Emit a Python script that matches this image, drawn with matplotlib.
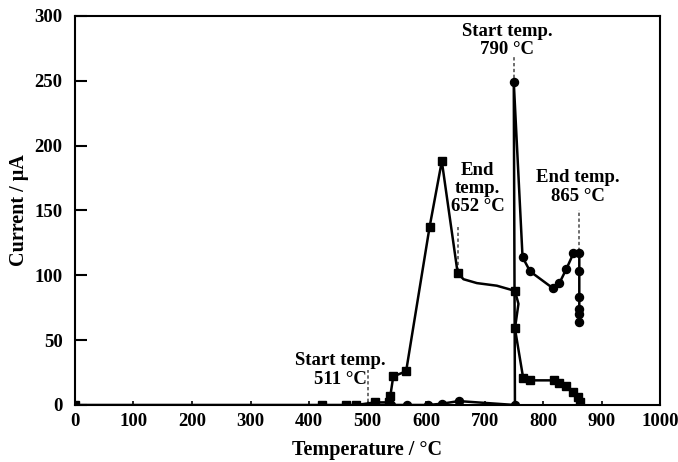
import matplotlib
matplotlib.use("Agg")
import matplotlib.pyplot as plt

plt.rcParams["font.family"] = ["Liberation Serif", "DejaVu Serif"]
plt.rcParams["font.weight"] = "bold"

# Square-marker series (first current peak); points on the smooth stretch
# between markers are drawn as line only
sq_x = [0, 423, 463, 481, 513, 536, 539, 544, 566, 606, 627, 654,
        664, 687, 721, 752, 758, 752, 766, 778, 818, 828, 840, 852, 860, 863]
sq_y = [0, 0, 0, 0, 2, 2, 7, 22, 26, 137, 188, 102,
        97, 94, 92, 88, 78, 59, 21, 19, 19, 17, 15, 10, 6, 2]
sq_marked = [1, 1, 1, 1, 1, 1, 1, 1, 1, 1, 1, 1,
             0, 0, 0, 1, 0, 1, 1, 1, 1, 1, 1, 1, 1, 1]

# Circle-marker series (second current peak)
ci_x = [513, 540, 567, 604, 627, 656, 752, 750, 765, 778, 817, 828, 840,
        852, 862, 862, 862, 862, 862, 862]
ci_y = [0, 0, 0, 0, 1, 3, 0, 249, 114, 103, 90, 94, 105,
        117, 117, 103, 83, 74, 70, 64]

# Annotations: text, text anchor (x, y), dashed marker line (x, y0, y1)
ann_text = ["Start temp.\n511 °C", "End\ntemp.\n652 °C",
            "Start temp.\n790 °C", "End temp.\n865 °C"]
ann_tx = [453, 688, 739, 860]
ann_ty = [27, 167, 281, 168]
ann_lx = [501, 655, 750, 861]
ann_ly0 = [2, 103, 252, 119]
ann_ly1 = [27, 137, 268, 150]

fig = plt.figure(figsize=(6.78, 4.62), dpi=100)
ax = fig.add_axes([0.1106, 0.1234, 0.9735 - 0.1106, 0.9654 - 0.1234])

ax.plot(sq_x, sq_y, color="black", lw=1.8, zorder=3)
mx = [x for x, m in zip(sq_x, sq_marked) if m]
my = [y for y, m in zip(sq_y, sq_marked) if m]
ax.plot(mx, my, ls="none", marker="s", ms=5.8, color="black", zorder=4)
ax.plot(ci_x, ci_y, color="black", lw=1.8, marker="o", ms=5.8, zorder=3)

for t, tx, ty, lx, y0, y1 in zip(ann_text, ann_tx, ann_ty, ann_lx, ann_ly0, ann_ly1):
    ax.plot([lx, lx], [y0, y1], color="#555555", lw=1.2, ls=(0, (2, 1.5)), zorder=2)
    ax.text(tx, ty, t, ha="center", va="center", fontsize=13.5,
            fontweight="bold", linespacing=1.1)

ax.set_xlim(0, 1000)
ax.set_ylim(0, 300)
ax.set_xticks(range(0, 1001, 100))
ax.set_yticks(range(0, 301, 50))
ax.tick_params(axis="x", direction="in", length=3, width=1.2, labelsize=13.5, pad=6)
ax.tick_params(axis="y", direction="in", length=8.5, width=1.5, labelsize=13.5, pad=9)
for lbl in ax.get_xticklabels() + ax.get_yticklabels():
    lbl.set_fontweight("bold")
for s in ax.spines.values():
    s.set_linewidth(1.5)

ax.set_xlabel("Temperature / °C", fontsize=14.5, fontweight="bold", labelpad=7)
ax.set_ylabel("Current / μA", fontsize=14.5, fontweight="bold", labelpad=4)

fig.savefig("out.png", dpi=100)
